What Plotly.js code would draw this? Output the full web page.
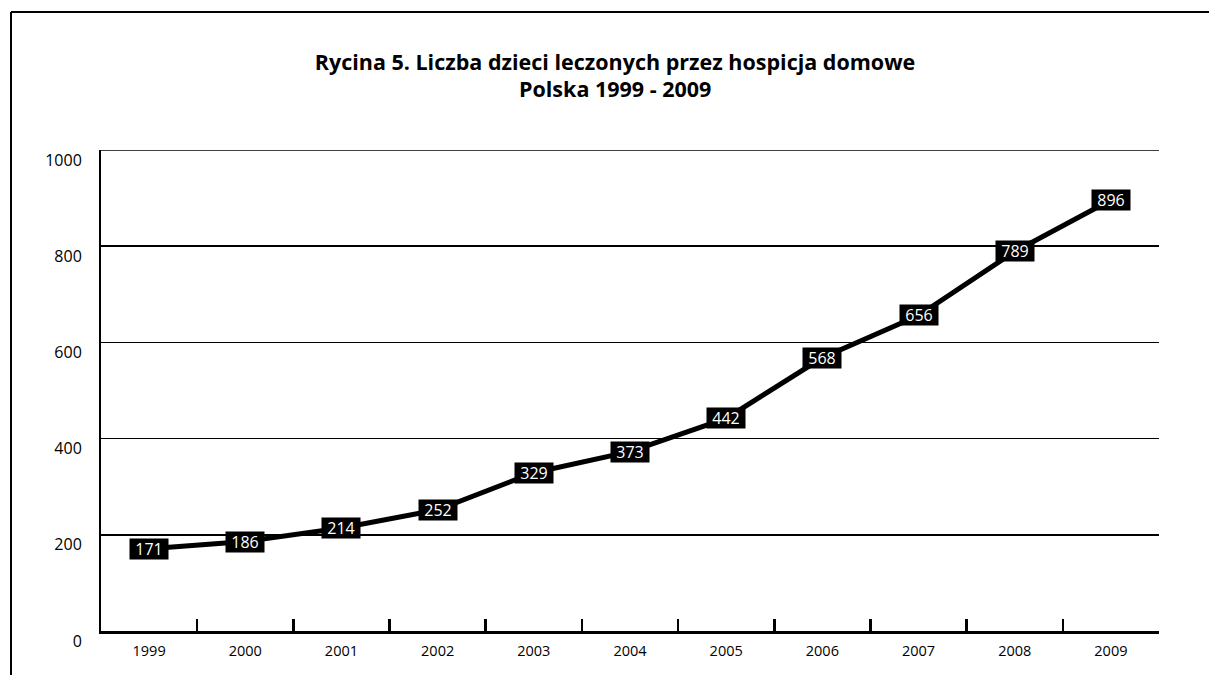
<!DOCTYPE html>
<html>
<head>
<meta charset="utf-8">
<script src="https://cdn.plot.ly/plotly-3.0.1.min.js"></script>
<style>
html,body{margin:0;padding:0;background:#fff;}
#chart{width:1209px;height:675px;}
</style>
</head>
<body>
<div id="chart"></div>
<script>
const years = ["1999","2000","2001","2002","2003","2004","2005","2006","2007","2008","2009"];
const children = [171, 186, 214, 252, 329, 373, 442, 568, 656, 789, 896];
const yTicks = [0, 200, 400, 600, 800, 1000];
const titleLine1 = "<b>Rycina 5. Liczba dzieci leczonych przez hospicja domowe</b>";
const titleLine2 = "<b>Polska 1999 - 2009</b>";

const FONT = "Open Sans, Noto Sans, sans-serif";

const trace = {
  type: "scatter",
  mode: "lines",
  x: years,
  y: children,
  line: {color: "#000", width: 5},
  hoverinfo: "skip",
  cliponaxis: false
};

const L = 101, R = 1159, T = 150, B = 631;
const W = R - L, H = B - T;
const px = v => (v - L) / W;
const py = v => (B - v) / H;

const annotations = years.map((yr, i) => ({
  x: i, y: children[i], xref: "x", yref: "y",
  text: String(children[i]),
  showarrow: false,
  bgcolor: "#000",
  font: {color: "#fff", size: 16, family: FONT},
  width: 36, height: 18,
  borderpad: 1,
  xanchor: "center", yanchor: "middle"
}));

annotations.push({
  xref: "paper", yref: "paper",
  x: px(615), y: py(88),
  text: titleLine2,
  showarrow: false,
  xanchor: "center", yanchor: "middle",
  font: {family: FONT, size: 21.5, color: "#000"}
});

const shapes = [
  {type: "line", xref: "paper", yref: "paper", x0: px(11), x1: px(11), y0: py(675), y1: py(12), line: {color: "#000", width: 2}},
  {type: "line", xref: "paper", yref: "paper", x0: px(11), x1: px(1209), y0: py(12), y1: py(12), line: {color: "#000", width: 2}},
  {type: "line", xref: "paper", yref: "y", x0: 0, x1: 1, y0: yTicks[yTicks.length - 1], y1: yTicks[yTicks.length - 1], line: {color: "#000", width: 1.5}, layer: "below"}
];

const layout = {
  width: 1209, height: 675,
  margin: {l: L, r: 1209 - R, t: T, b: 675 - B, pad: 0},
  paper_bgcolor: "#fff", plot_bgcolor: "#fff",
  showlegend: false,
  title: {
    text: titleLine1,
    x: 615 / 1209, xanchor: "center", xref: "container",
    y: 1 - 62 / 675, yanchor: "middle", yref: "container",
    font: {family: FONT, size: 21.5, color: "#000"}
  },
  xaxis: {
    type: "category",
    range: [-0.5, 10.5],
    showline: true, linecolor: "#000", linewidth: 3,
    ticks: "inside", tickson: "boundaries", ticklen: 12, tickwidth: 2.5, tickcolor: "#000",
    showgrid: false, zeroline: false,
    tickfont: {family: FONT, size: 14.5, color: "#000"},
    ticklabelstandoff: 5,
    fixedrange: true
  },
  yaxis: {
    range: [0, 1000],
    tickvals: yTicks,
    ticktext: yTicks.map(String),
    showline: true, linecolor: "#000", linewidth: 2,
    showgrid: true, gridcolor: "#000", gridwidth: 1.5,
    zeroline: false,
    ticks: "",
    tickfont: {family: FONT, size: 16, color: "#000"},
    ticklabelstandoff: 14,
    ticklabelshift: 10,
    fixedrange: true
  },
  annotations: annotations,
  shapes: shapes
};

Plotly.newPlot("chart", [trace], layout, {displayModeBar: false, staticPlot: true});
</script>
</body>
</html>
